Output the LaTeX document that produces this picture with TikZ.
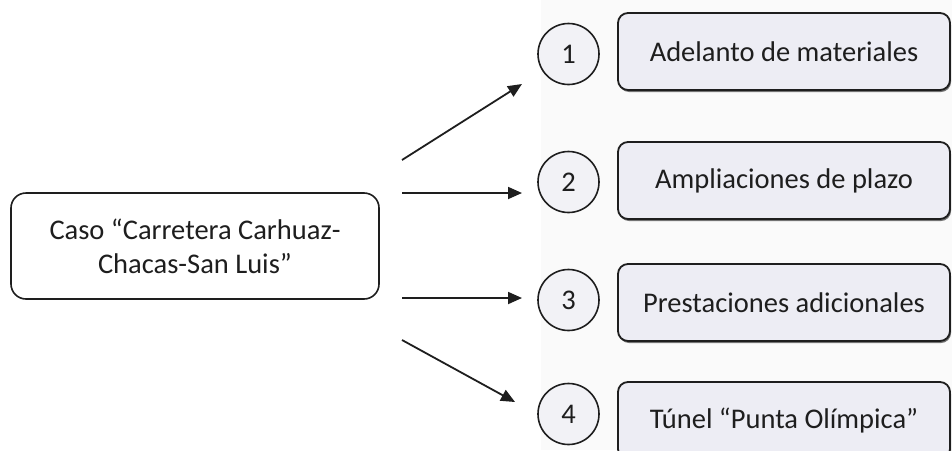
\documentclass[tikz,border=0pt]{standalone}
\usepackage{fontspec}
\setmainfont{Carlito}
\usetikzlibrary{arrows.meta,shadows}
\definecolor{boxfill}{HTML}{EDEDF4}
\definecolor{circfill}{HTML}{F2F2F6}
\definecolor{scanbg}{HTML}{FAFAFA}
\definecolor{ink}{HTML}{1E1E1E}
\begin{document}
\begin{tikzpicture}[x=1pt,y=-1pt,
  every node/.style={font=\fontsize{28.5}{34}\selectfont, text=ink},
  casebox/.style={draw=ink, line width=1.6pt, rounded corners=15pt, fill=white,
    minimum width=368pt, minimum height=106pt, align=center, inner sep=0pt},
  itembox/.style={draw=ink, line width=1.8pt, rounded corners=10pt, fill=boxfill,
    minimum width=332pt, minimum height=77pt, inner sep=0pt,
    drop shadow={shadow xshift=1pt, shadow yshift=-2pt, fill=black!55, opacity=1}},
  numcirc/.style={draw=ink, line width=1.6pt, circle, fill=circfill,
    minimum size=61pt, inner sep=0pt},
  link/.style={draw=ink, line width=1.8pt, -{Triangle[length=14pt,width=12pt]}}]

  \useasboundingbox (0,0) rectangle (952,450);
  \clip (0,0) rectangle (952,450);
  \fill[white] (0,0) rectangle (952,450);
  \fill[scanbg] (541,0) rectangle (952,450);

  % main case
  \node[casebox] (caso) at (195,246) {Caso “Carretera Carhuaz-\\Chacas-San Luis”};

  % numbered items
  \node[numcirc] (c1) at (568.5,54)  {1};
  \node[numcirc] (c2) at (568.5,182) {2};
  \node[numcirc] (c3) at (568.5,300) {3};
  \node[numcirc] (c4) at (568.5,414) {4};

  \node[itembox] (b1) at (784,51.5)  {Adelanto de materiales};
  \node[itembox] (b2) at (784,180.5) {Ampliaciones de plazo};
  \node[itembox] (b3) at (784,302.5) {Prestaciones adicionales};
  \node[itembox] (b4) at (784,420.5) {Túnel “Punta Olímpica”};

  % arrow ends
  \coordinate (s1) at (402,160); \coordinate (t1) at (522,84);
  \coordinate (s2) at (402,193); \coordinate (t2) at (522,193);
  \coordinate (s3) at (402,298); \coordinate (t3) at (522,298);
  \coordinate (s4) at (402,340); \coordinate (t4) at (515,402);

  \draw[link] (s1) -- (t1);
  \draw[link] (s2) -- (t2);
  \draw[link] (s3) -- (t3);
  \draw[link] (s4) -- (t4);
\end{tikzpicture}
\end{document}
